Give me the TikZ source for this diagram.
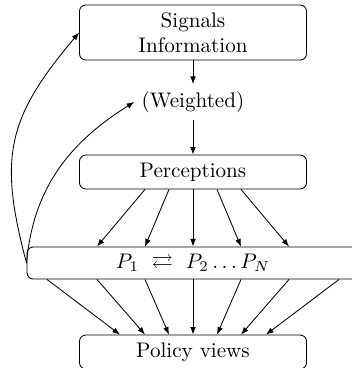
\documentclass[tikz,border=0pt]{standalone}
\usepackage{amsmath}
\usepackage{amssymb}
\usetikzlibrary{arrows.meta,calc}

\begin{document}
\begin{tikzpicture}[>={Latex[length=3.6pt,width=2.7pt]}, x=0.474pt, y=0.474pt,
    % Define the style for the boxes
    box/.style={draw, rounded corners=3pt, align=center, minimum width=107.6pt, minimum height=16.1pt, inner sep=2pt},
    wide box/.style={box, minimum width=157.4pt, minimum height=15.2pt},
    % Define the style for the connecting lines
    connection/.style={->}
]

% Fix the visible area of the picture
\useasboundingbox (0,0) rectangle (352,-368);

% The boxes from top to bottom
\node[box, minimum height=26.1pt] (sig) at (193,-32.5) {Signals\\Information};
\node (wgt) at (193,-102) {(Weighted)};
\node[box] (per) at (193,-172) {Perceptions};
\node[wide box] (pall) at (193,-263) {$P_1 \ \rightleftarrows\ P_2\ldots P_N$};
\node[box] (pol) at (193,-352) {Policy views};

% Straight line down the middle
\draw[connection] (sig) -- (wgt);
\draw[connection] (wgt) -- (per);

% Fan out from the perceptions to the P box
\foreach \s/\e in {-48/-96,-24/-48,0/0,24/48,48/96}
    \draw[connection] ($(per.south)+(\s,0)$) -- ($(pall.north)+(\e,0)$);

% Fan in from the P box to the policy views
\foreach \s/\e in {-146/-73,-96/-48,-48/-24,0/0,48/24,96/48,146/73}
    \draw[connection] ($(pall.south)+(\s,0)$) -- ($(pol.north)+(\e,0)$);

% Feedback curves on the left
\draw[connection] (pall.west) to[out=105, in=230, looseness=1.2] (sig.west);
\draw[connection] (pall.west) to[out=85, in=212] (wgt.west);

\end{tikzpicture}
\end{document}
